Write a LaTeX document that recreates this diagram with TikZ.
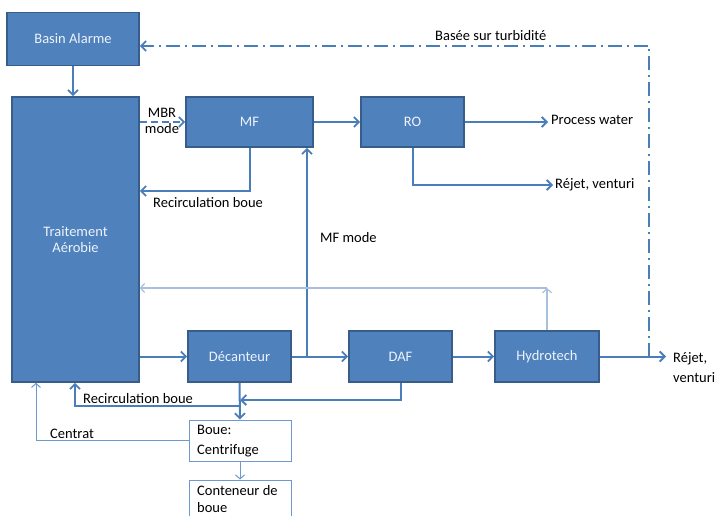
\documentclass[tikz,border=0pt]{standalone}
\usepackage{fontspec}
\setmainfont{Carlito}
\usetikzlibrary{arrows.meta,calc}
\definecolor{boxfill}{HTML}{4F81BD}
\definecolor{boxline}{HTML}{385D8A}
\definecolor{conn}{HTML}{4A7EBB}
\definecolor{lightconn}{HTML}{A7C0DE}
\definecolor{thinconn}{HTML}{6F98CD}
\definecolor{boxtext}{HTML}{EEF3FA}
\begin{document}
\begin{tikzpicture}[x=1pt,y=-1pt,
  font=\fontsize{14.5}{17}\selectfont,
  bluebox/.style={draw=boxline,fill=boxfill,line width=1.6pt,text=boxtext,inner sep=0pt,align=center},
  whitebox/.style={draw=thinconn,fill=white,line width=1pt,inner sep=0pt},
  flow/.style={draw=conn,line width=2pt,-{Straight Barb[length=5pt,width=10pt,line width=1.8pt]}},
  thinflow/.style={draw=thinconn,line width=1pt,-{Straight Barb[length=4pt,width=9pt,line width=1pt]}},
  lightflow/.style={draw=lightconn,line width=1.4pt,-{Straight Barb[length=4pt,width=9pt,line width=1.2pt]}},
  lbl/.style={text=black,inner sep=0pt,anchor=west,align=left},
]
\useasboundingbox (0,0) rectangle (720,516);
\begin{scope}
\clip (0,0) rectangle (720,516);
% boxes
\node[bluebox,minimum width=132pt,minimum height=53pt] (basin) at (73,39) {Basin Alarme};
\node[bluebox,minimum width=127pt,minimum height=285pt] (trait) at (75.5,239.5) {Traitement\\[-1pt]Aérobie};
\node[bluebox,minimum width=127pt,minimum height=50pt] (mf) at (249.5,122) {MF};
\node[bluebox,minimum width=103pt,minimum height=50pt] (ro) at (412.5,122) {RO};
\node[bluebox,minimum width=103pt,minimum height=51pt] (dec) at (239.5,356.5) {Décanteur};
\node[bluebox,minimum width=103pt,minimum height=51pt] (daf) at (400.5,356.5) {DAF};
\node[bluebox,minimum width=104pt,minimum height=51pt] (hydro) at (547,356.5) {Hydrotech};
\node[whitebox,minimum width=102pt,minimum height=41pt] (boue) at (240,440.5) {};
\node[lbl,font=\fontsize{14.5}{20}\selectfont] (bouet) at (197,441) {Boue:\\Centrifuge};
\node[whitebox,minimum width=102pt,minimum height=46pt] (cont) at (240,503) {};
\node[lbl,font=\fontsize{14.5}{16.5}\selectfont] (contt) at (197,499) {Conteneur de\\boue};
% free ends
\node[lbl] (pw) at (551,120) {Process water};
\node[lbl] (rej1) at (555,185) {Réjet, venturi};
\node[lbl,font=\fontsize{14.5}{20}\selectfont] (rej2) at (673,368) {Réjet,\\venturi};
\coordinate (mfj) at (307,356.5);
\coordinate (hend) at (666,356.5);
\coordinate (dd) at (649,46);
\coordinate (lt) at (547,288);
\coordinate (rj) at (240,406);
\coordinate (dafj) at (240,400);
% labels
\node[text=black,inner sep=0pt,anchor=base] (mbr) at (162,117.5) {MBR};
\node[text=black,inner sep=0pt,anchor=base] (mode) at (162,134) {mode};
\node[lbl] (recirc1) at (153,203) {Recirculation boue};
\node[lbl] (mfmode) at (320,238) {MF mode};
\node[lbl] (turb) at (435,36) {Basée sur turbidité};
\node[lbl] (recirc2) at (83,399) {Recirculation boue};
\node[lbl] (centrat) at (50,434) {Centrat};
% connectors
\draw[flow] (basin.south) -- (basin.south |- trait.north);
\draw[flow,dash pattern=on 7pt off 4pt] (mf.west -| trait.east) -- (mf.west);
\draw[flow] (mf.east) -- (ro.west);
\draw[flow] (ro.east) -- ($(ro.east -| pw.west)+(-3,0)$);
\draw[flow] (ro.south) |- ($(rej1.west)+(-2,0)$);
\draw[flow] (mf.south) |- ($(trait.east)+(0,-48.5)$);
\draw[flow] (mfj) -- (mfj |- mf.south);
\draw[flow] (dec.west -| trait.east) -- (dec.west);
\draw[flow] (dec.east) -- (daf.west);
\draw[flow] (daf.east) -- (hydro.west);
\draw[flow] (hydro.east) -- (hend);
\draw[draw=conn,line width=2pt,-{Straight Barb[length=5pt,width=10pt,line width=1.8pt]},dash pattern=on 14pt off 5pt on 2pt off 5pt] (hend -| dd) -- (dd) -- (basin.east |- dd);
\draw[lightflow] (hydro.north) -- (lt);
\draw[lightflow] (lt) -- (lt -| trait.east);
\draw[flow] (dec.south) -- (boue.north);
\draw[flow] (rj) -| (trait.south -| 75,0);
\draw[flow] (daf.south) |- (dafj);
\draw[thinflow] (boue.west |- 0,440) -| (trait.south -| 36,0);
\draw[thinflow] (boue.south) -- (cont.north);
\end{scope}
\end{tikzpicture}
\end{document}
